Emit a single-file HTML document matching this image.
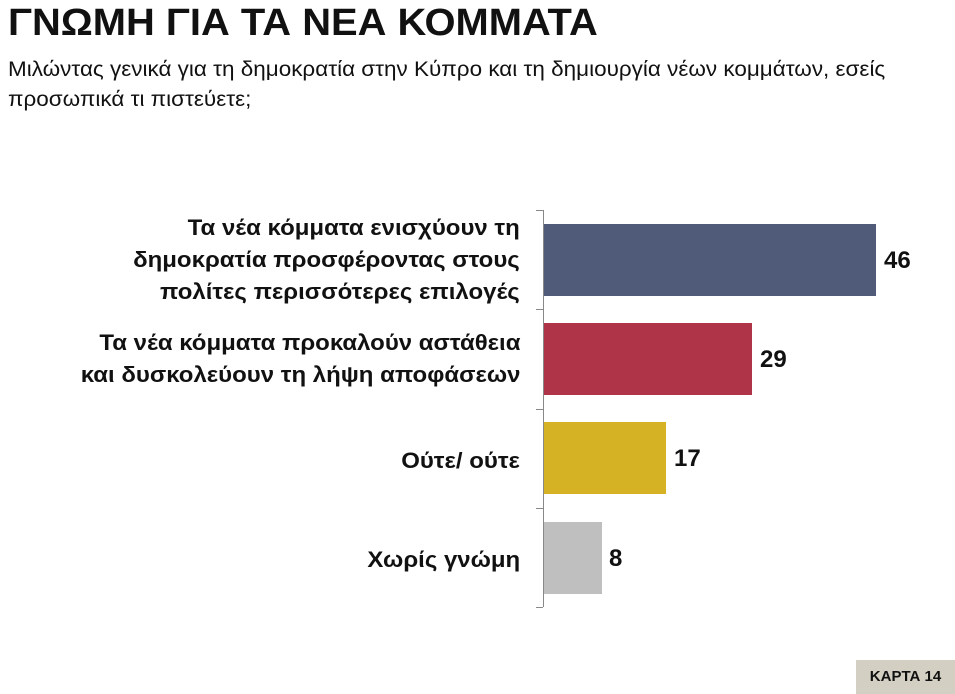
<!DOCTYPE html><html><head><meta charset="utf-8"><style>
body{margin:0;width:955px;height:694px;background:#fff;position:relative;overflow:hidden;font-family:"Liberation Sans",sans-serif;}
.a{position:absolute}
.t{left:8px;top:2px;font-size:38px;font-weight:bold;color:#111;transform:scaleX(1.05);transform-origin:left top;white-space:nowrap}
.s{left:8px;top:55px;font-size:21px;color:#111;line-height:30px;transform:scaleX(1.07);transform-origin:left top;white-space:nowrap}
.l{right:435px;text-align:right;font-weight:bold;font-size:22px;color:#111;line-height:32px;transform:scaleX(1.09);transform-origin:right top;white-space:nowrap}
.b{left:544px;height:72px}
.v{font-weight:bold;font-size:24px;color:#111}
</style></head><body>
<div class="a t">ΓΝΩΜΗ ΓΙΑ ΤΑ ΝΕΑ ΚΟΜΜΑΤΑ</div>
<div class="a s">Μιλώντας γενικά για τη δημοκρατία στην Κύπρο και τη δημιουργία νέων κομμάτων, εσείς<br>προσωπικά τι πιστεύετε;</div>
<div class="a" style="left:543px;top:210px;width:1px;height:397px;background:#888"></div>
<div class="a" style="left:536px;top:210px;width:7px;height:1px;background:#888"></div>
<div class="a" style="left:536px;top:309px;width:7px;height:1px;background:#888"></div>
<div class="a" style="left:536px;top:409px;width:7px;height:1px;background:#888"></div>
<div class="a" style="left:536px;top:508px;width:7px;height:1px;background:#888"></div>
<div class="a" style="left:536px;top:607px;width:7px;height:1px;background:#888"></div>
<div class="a b" style="top:224px;width:332px;background:#4f5b78"></div>
<div class="a b" style="top:323px;width:208px;background:#b03447"></div>
<div class="a b" style="top:422px;width:122px;background:#d4b224"></div>
<div class="a b" style="top:522px;width:58px;background:#bfbfbf"></div>
<div class="a v" style="left:884px;top:247px">46</div>
<div class="a v" style="left:760px;top:346px">29</div>
<div class="a v" style="left:674px;top:445px">17</div>
<div class="a v" style="left:609px;top:545px">8</div>
<div class="a l" style="top:212px">Τα νέα κόμματα ενισχύουν τη<br>δημοκρατία προσφέροντας στους<br>πολίτες περισσότερες επιλογές</div>
<div class="a l" style="top:327px">Τα νέα κόμματα προκαλούν αστάθεια<br>και δυσκολεύουν τη λήψη αποφάσεων</div>
<div class="a l" style="top:445px">Ούτε/ ούτε</div>
<div class="a l" style="top:544px">Χωρίς γνώμη</div>
<div class="a" style="left:856px;top:660px;width:99px;height:34px;background:#d3cfc3;font-weight:bold;font-size:15px;line-height:34px;text-align:center;color:#111">ΚΑΡΤΑ 14</div>
</body></html>
